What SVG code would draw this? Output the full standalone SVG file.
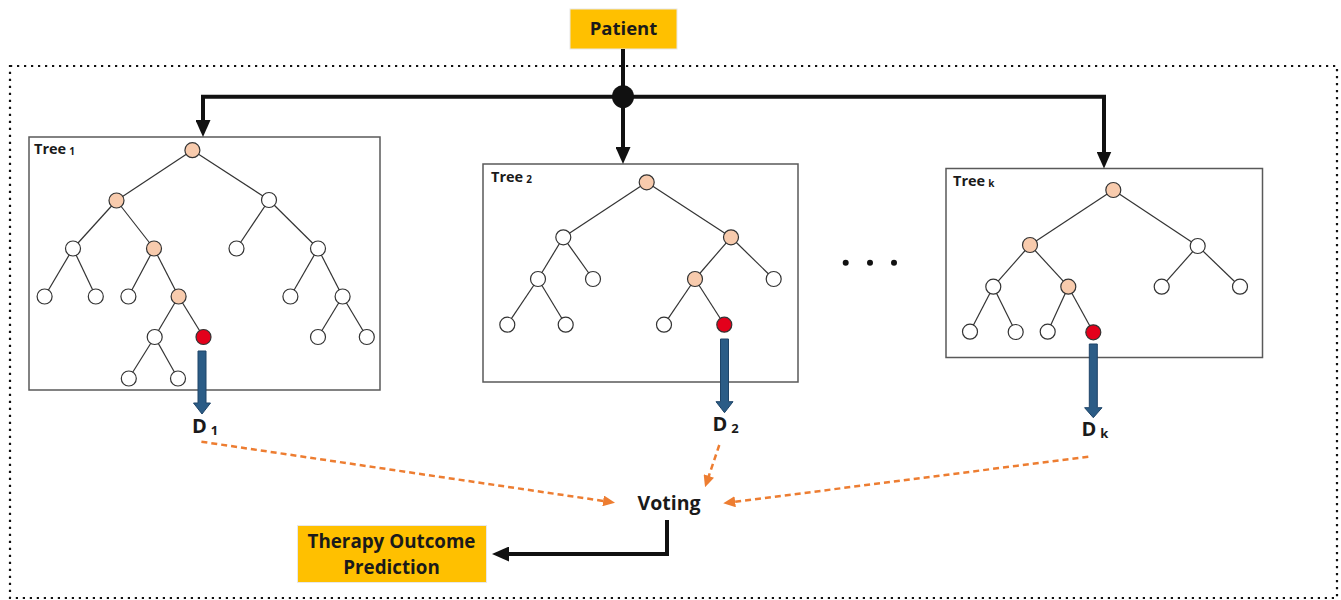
<svg xmlns="http://www.w3.org/2000/svg" width="1341" height="600" viewBox="0 0 1341 600">
<defs>
<style>
.box{fill:#fff;stroke:#595959;stroke-width:1.5}
.e{stroke:#333;stroke-width:1.2}
.w{fill:#fff;stroke:#333;stroke-width:1.2}
.p{fill:#F8CBAD;stroke:#333;stroke-width:1.2}
.r{fill:#E3001B;stroke:#333;stroke-width:1.2}
.blue{fill:#2B5C86;stroke:#1E4468;stroke-width:1}
.lbl{font-family:"Open Sans","Liberation Sans",sans-serif;font-weight:bold;fill:#1a1a1a}
.conn{fill:none;stroke:#111;stroke-width:4;stroke-linejoin:miter}
.vote{fill:none;stroke:#ED7D31;stroke-width:2.5;stroke-dasharray:6 4}
.yel{fill:#FFC000;stroke:#E8E8E8;stroke-width:1}
</style>
<marker id="blk" markerUnits="userSpaceOnUse" markerWidth="17" markerHeight="15" refX="7" refY="7.5" orient="auto">
<path d="M0,0 L17,7.5 L0,15 z" fill="#111"/>
</marker>
<marker id="org" markerUnits="userSpaceOnUse" markerWidth="12" markerHeight="11" refX="4" refY="5.5" orient="auto">
<path d="M0,0 L12,5.5 L0,11 z" fill="#ED7D31"/>
</marker>
</defs>
<rect width="1341" height="600" fill="#fff"/>
<rect id="frame" x="10" y="66" width="1327" height="532" fill="none" stroke="#111" stroke-width="2.2" stroke-dasharray="2.2 4.8"/>

<g id="patient">
<rect class="yel" x="570" y="9" width="107" height="40"/>
<text class="lbl" x="623.5" y="35" font-size="18.5" text-anchor="middle">Patient</text>
</g>

<g id="tree1">
<rect class="box" x="29" y="137" width="351" height="253"/>
<text class="lbl" x="34" y="154" font-size="14.5">Tree<tspan font-size="10" dx="3" dy="1">1</tspan></text>
<g>
<line class="e" x1="192.4" y1="150.2" x2="116.5" y2="200.5"/>
<line class="e" x1="192.4" y1="150.2" x2="269" y2="200"/>
<line class="e" x1="116.5" y1="200.5" x2="73" y2="248.5"/>
<line class="e" x1="116.5" y1="200.5" x2="154" y2="248.5"/>
<line class="e" x1="269" y1="200" x2="236.5" y2="248.5"/>
<line class="e" x1="269" y1="200" x2="318" y2="248.5"/>
<line class="e" x1="73" y1="248.5" x2="44.6" y2="296.5"/>
<line class="e" x1="73" y1="248.5" x2="95.8" y2="296.5"/>
<line class="e" x1="154" y1="248.5" x2="128.4" y2="296.5"/>
<line class="e" x1="154" y1="248.5" x2="178.6" y2="296.5"/>
<line class="e" x1="318" y1="248.5" x2="290.4" y2="296.5"/>
<line class="e" x1="318" y1="248.5" x2="342.6" y2="296.5"/>
<line class="e" x1="178.6" y1="296.5" x2="154.7" y2="337"/>
<line class="e" x1="178.6" y1="296.5" x2="203.5" y2="337"/>
<line class="e" x1="342.6" y1="296.5" x2="318" y2="337"/>
<line class="e" x1="342.6" y1="296.5" x2="366.8" y2="337"/>
<line class="e" x1="154.7" y1="337" x2="128.8" y2="378.5"/>
<line class="e" x1="154.7" y1="337" x2="178" y2="378.5"/>
</g>
<circle class="p" cx="192.4" cy="150.2" r="7.5"/>
<circle class="p" cx="116.5" cy="200.5" r="7.5"/>
<circle class="w" cx="269" cy="200" r="7.5"/>
<circle class="w" cx="73" cy="248.5" r="7.5"/>
<circle class="p" cx="154" cy="248.5" r="7.5"/>
<circle class="w" cx="236.5" cy="248.5" r="7.5"/>
<circle class="w" cx="318" cy="248.5" r="7.5"/>
<circle class="w" cx="44.6" cy="296.5" r="7.5"/>
<circle class="w" cx="95.8" cy="296.5" r="7.5"/>
<circle class="w" cx="128.4" cy="296.5" r="7.5"/>
<circle class="p" cx="178.6" cy="296.5" r="7.5"/>
<circle class="w" cx="290.4" cy="296.5" r="7.5"/>
<circle class="w" cx="342.6" cy="296.5" r="7.5"/>
<circle class="w" cx="154.7" cy="337" r="7.5"/>
<circle class="r" cx="203.5" cy="337" r="7.5"/>
<circle class="w" cx="318" cy="337" r="7.5"/>
<circle class="w" cx="366.8" cy="337" r="7.5"/>
<circle class="w" cx="128.8" cy="378.5" r="7.5"/>
<circle class="w" cx="178" cy="378.5" r="7.5"/>
</g>

<g id="tree2">
<rect class="box" x="483" y="164" width="315" height="218"/>
<text class="lbl" x="491" y="182" font-size="14.5">Tree<tspan font-size="10" dx="3" dy="1">2</tspan></text>
<g>
<line class="e" x1="646.7" y1="182.3" x2="563.3" y2="237.3"/>
<line class="e" x1="646.7" y1="182.3" x2="731" y2="237.3"/>
<line class="e" x1="563.3" y1="237.3" x2="538" y2="279"/>
<line class="e" x1="563.3" y1="237.3" x2="593" y2="279"/>
<line class="e" x1="731" y1="237.3" x2="695" y2="279"/>
<line class="e" x1="731" y1="237.3" x2="773.7" y2="279"/>
<line class="e" x1="538" y1="279" x2="507.3" y2="324.7"/>
<line class="e" x1="538" y1="279" x2="565.7" y2="324.7"/>
<line class="e" x1="695" y1="279" x2="664" y2="324.7"/>
<line class="e" x1="695" y1="279" x2="724.3" y2="324.7"/>
</g>
<circle class="p" cx="646.7" cy="182.3" r="7.5"/>
<circle class="w" cx="563.3" cy="237.3" r="7.5"/>
<circle class="p" cx="731" cy="237.3" r="7.5"/>
<circle class="w" cx="538" cy="279" r="7.5"/>
<circle class="w" cx="593" cy="279" r="7.5"/>
<circle class="p" cx="695" cy="279" r="7.5"/>
<circle class="w" cx="773.7" cy="279" r="7.5"/>
<circle class="w" cx="507.3" cy="324.7" r="7.5"/>
<circle class="w" cx="565.7" cy="324.7" r="7.5"/>
<circle class="w" cx="664" cy="324.7" r="7.5"/>
<circle class="r" cx="724.3" cy="324.7" r="7.5"/>
</g>

<g id="treek">
<rect class="box" x="946" y="168.5" width="316.5" height="189"/>
<text class="lbl" x="953" y="185.5" font-size="14.5">Tree<tspan font-size="10" dx="3" dy="1">k</tspan></text>
<g>
<line class="e" x1="1113.3" y1="190" x2="1030" y2="245"/>
<line class="e" x1="1113.3" y1="190" x2="1197.7" y2="246"/>
<line class="e" x1="1030" y1="245" x2="993.3" y2="286.7"/>
<line class="e" x1="1030" y1="245" x2="1068.3" y2="286.7"/>
<line class="e" x1="1197.7" y1="246" x2="1161.7" y2="286.7"/>
<line class="e" x1="1197.7" y1="246" x2="1240" y2="286.7"/>
<line class="e" x1="993.3" y1="286.7" x2="970" y2="331.7"/>
<line class="e" x1="993.3" y1="286.7" x2="1015.7" y2="332"/>
<line class="e" x1="1068.3" y1="286.7" x2="1047.7" y2="331.7"/>
<line class="e" x1="1068.3" y1="286.7" x2="1093.3" y2="332.3"/>
</g>
<circle class="p" cx="1113.3" cy="190" r="7.5"/>
<circle class="p" cx="1030" cy="245" r="7.5"/>
<circle class="w" cx="1197.7" cy="246" r="7.5"/>
<circle class="w" cx="993.3" cy="286.7" r="7.5"/>
<circle class="p" cx="1068.3" cy="286.7" r="7.5"/>
<circle class="w" cx="1161.7" cy="286.7" r="7.5"/>
<circle class="w" cx="1240" cy="286.7" r="7.5"/>
<circle class="w" cx="970" cy="331.7" r="7.5"/>
<circle class="w" cx="1015.7" cy="332" r="7.5"/>
<circle class="w" cx="1047.7" cy="331.7" r="7.5"/>
<circle class="r" cx="1093.3" cy="332.3" r="7.5"/>
</g>

<g id="ellipsis" fill="#111">
<circle cx="845.7" cy="262.7" r="3"/>
<circle cx="870" cy="262.7" r="3"/>
<circle cx="894" cy="262.7" r="3"/>
</g>

<g id="d1"><text class="lbl" x="192" y="433" font-size="20">D<tspan font-size="13" dx="4" dy="2">1</tspan></text></g>
<g id="d2"><text class="lbl" x="712.5" y="431" font-size="20">D<tspan font-size="13" dx="4" dy="2">2</tspan></text></g>
<g id="dk"><text class="lbl" x="1081.5" y="436" font-size="20">D<tspan font-size="13" dx="4" dy="2">k</tspan></text></g>

<g id="voting"><text class="lbl" x="669" y="510" font-size="19.5" text-anchor="middle">Voting</text></g>

<g id="therapy">
<rect class="yel" x="297.5" y="525.5" width="189" height="57"/>
<text class="lbl" x="391.5" y="548" font-size="18.8" text-anchor="middle">Therapy Outcome</text>
<text class="lbl" x="391.5" y="574" font-size="18.8" text-anchor="middle">Prediction</text>
</g>

<g id="connectors">
<path class="conn" d="M623,49 V154" marker-end="url(#blk)"/>
<path class="conn" d="M623,96.7 H203 V127" marker-end="url(#blk)"/>
<path class="conn" d="M623,96.7 H1104 V158.5" marker-end="url(#blk)"/>
<ellipse cx="623" cy="96.7" rx="11" ry="11.5" fill="#111"/>
<polygon class="blue" points="198,351 206,351 206,403 210.5,403 202,414 193.5,403 198,403"/>
<polygon class="blue" points="720.5,339 728.5,339 728.5,401.7 733,401.7 724.5,412.7 716,401.7 720.5,401.7"/>
<polygon class="blue" points="1089.3,344 1097.3,344 1097.3,407.7 1102,407.7 1093.3,417.7 1084.6,407.7 1089.3,407.7"/>
<line class="vote" x1="201.4" y1="441.7" x2="607.1" y2="501.5" marker-end="url(#org)"/>
<line class="vote" x1="719.3" y1="445" x2="707.6" y2="479.7" marker-end="url(#org)"/>
<line class="vote" x1="1088.3" y1="456.7" x2="731.2" y2="502.3" marker-end="url(#org)"/>
<path class="conn" d="M667,520 V554 H502" marker-end="url(#blk)"/>
</g>
</svg>
